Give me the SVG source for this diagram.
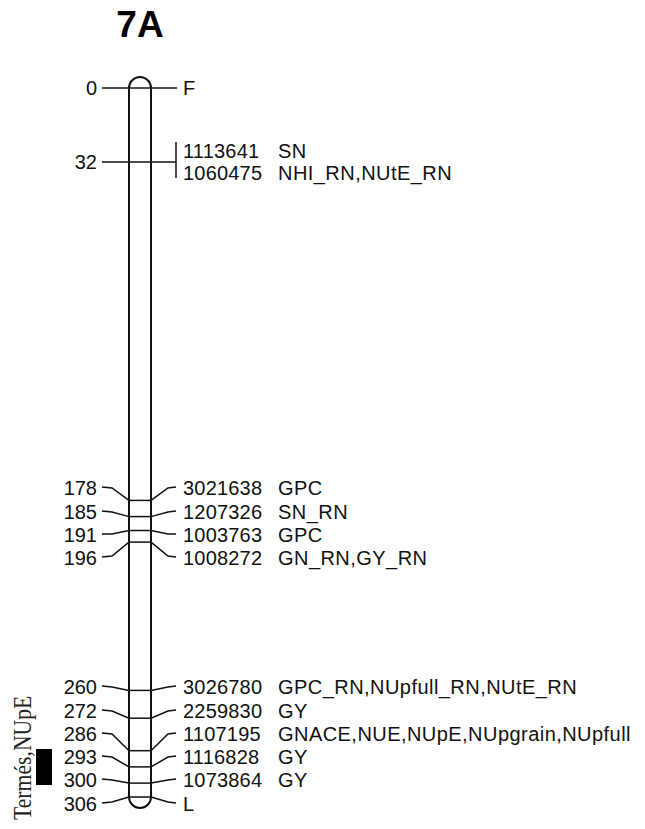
<svg xmlns="http://www.w3.org/2000/svg" width="645" height="829" viewBox="0 0 645 829">
<style>
.t{font-family:"Liberation Sans",Arial,sans-serif;font-size:20px;fill:#111}
.n{letter-spacing:0.2px}
.s{letter-spacing:0.45px}
.l{text-anchor:end}
.ln{stroke:#111;stroke-width:1.5;fill:none}
.chr{stroke:#111;stroke-width:2;fill:#fff}
.title{font-family:"Liberation Sans",Arial,sans-serif;font-size:37px;font-weight:bold;fill:#000;text-anchor:middle}
.side{font-family:"Liberation Serif","Times New Roman",serif;font-size:21.7px;fill:#222}
</style>
<rect width="645" height="829" fill="#fff"/>
<text class="title" x="140" y="37">7A</text>
<g id="chromosome">
<path class="chr" d="M129,797 L129,88 A11,11 0 0 1 151,88 L151,797 A11,11 0 0 1 129,797 Z"/>
</g>
<g id="connectors" class="ln">
<line x1="102" y1="88" x2="177" y2="88"/>
<line x1="102" y1="162" x2="176" y2="162"/>
<line x1="176" y1="142" x2="176" y2="178"/>
<polyline points="102,487 112,488 129,500.4"/><polyline points="151,500.4 168,488 176,487"/>
<polyline points="102,511 112,512 129,516.6"/><polyline points="151,516.6 168,512 176,511"/>
<polyline points="102,534 112,534 129,530.5"/><polyline points="151,530.5 168,534 176,534"/>
<polyline points="102,557 112,556 129,542.1"/><polyline points="151,542.1 168,556 176,557"/>
<polyline points="102,686 112,687 129,690.4"/><polyline points="151,690.4 168,687 176,686"/>
<polyline points="102,710 112,711 129,718.2"/><polyline points="151,718.2 168,711 176,710"/>
<polyline points="102,733 112,734 129,750.7"/><polyline points="151,750.7 168,734 176,733"/>
<polyline points="102,756 112,757 129,766.9"/><polyline points="151,766.9 168,757 176,756"/>
<polyline points="102,779 112,780 129,783.1"/><polyline points="151,783.1 168,780 176,779"/>
<polyline points="102,803 112,802 129,797"/><polyline points="151,797 168,802 176,803"/>
</g>
<g id="loci" class="ln">
<line x1="129" y1="500.4" x2="151" y2="500.4"/>
<line x1="129" y1="516.6" x2="151" y2="516.6"/>
<line x1="129" y1="530.5" x2="151" y2="530.5"/>
<line x1="129" y1="542.1" x2="151" y2="542.1"/>
<line x1="129" y1="690.4" x2="151" y2="690.4"/>
<line x1="129" y1="718.2" x2="151" y2="718.2"/>
<line x1="129" y1="750.7" x2="151" y2="750.7"/>
<line x1="129" y1="766.9" x2="151" y2="766.9"/>
<line x1="129" y1="783.1" x2="151" y2="783.1"/>
<line x1="129" y1="797" x2="151" y2="797"/>
</g>
<g id="m0"><text class="t l" x="97" y="95">0</text><text class="t" x="183" y="95">F</text></g>
<g id="m32"><text class="t l" x="97" y="169">32</text><text class="t n" x="183" y="158">1113641</text><text class="t s" x="278" y="158">SN</text><text class="t n" x="183" y="180">1060475</text><text class="t s" x="278" y="180">NHI_RN,NUtE_RN</text></g>
<g id="m178"><text class="t l" x="97" y="495">178</text><text class="t n" x="183" y="495">3021638</text><text class="t s" x="278" y="495">GPC</text></g>
<g id="m185"><text class="t l" x="97" y="519">185</text><text class="t n" x="183" y="519">1207326</text><text class="t s" x="278" y="519">SN_RN</text></g>
<g id="m191"><text class="t l" x="97" y="542">191</text><text class="t n" x="183" y="542">1003763</text><text class="t s" x="278" y="542">GPC</text></g>
<g id="m196"><text class="t l" x="97" y="565">196</text><text class="t n" x="183" y="565">1008272</text><text class="t s" x="278" y="565">GN_RN,GY_RN</text></g>
<g id="m260"><text class="t l" x="97" y="694">260</text><text class="t n" x="183" y="694">3026780</text><text class="t s" x="278" y="694">GPC_RN,NUpfull_RN,NUtE_RN</text></g>
<g id="m272"><text class="t l" x="97" y="718">272</text><text class="t n" x="183" y="718">2259830</text><text class="t s" x="278" y="718">GY</text></g>
<g id="m286"><text class="t l" x="97" y="741">286</text><text class="t n" x="183" y="741">1107195</text><text class="t s" x="278" y="741">GNACE,NUE,NUpE,NUpgrain,NUpfull</text></g>
<g id="m293"><text class="t l" x="97" y="764">293</text><text class="t n" x="183" y="764">1116828</text><text class="t s" x="278" y="764">GY</text></g>
<g id="m300"><text class="t l" x="97" y="787">300</text><text class="t n" x="183" y="787">1073864</text><text class="t s" x="278" y="787">GY</text></g>
<g id="m306"><text class="t l" x="97" y="811">306</text><text class="t" x="183" y="811">L</text></g>
<g id="qtl">
<rect x="36" y="749" width="16" height="36" fill="#000"/>
<text class="side" transform="translate(31,820) rotate(-90) scale(1,1.12)">Termés,NUpE</text>
</g>
</svg>
